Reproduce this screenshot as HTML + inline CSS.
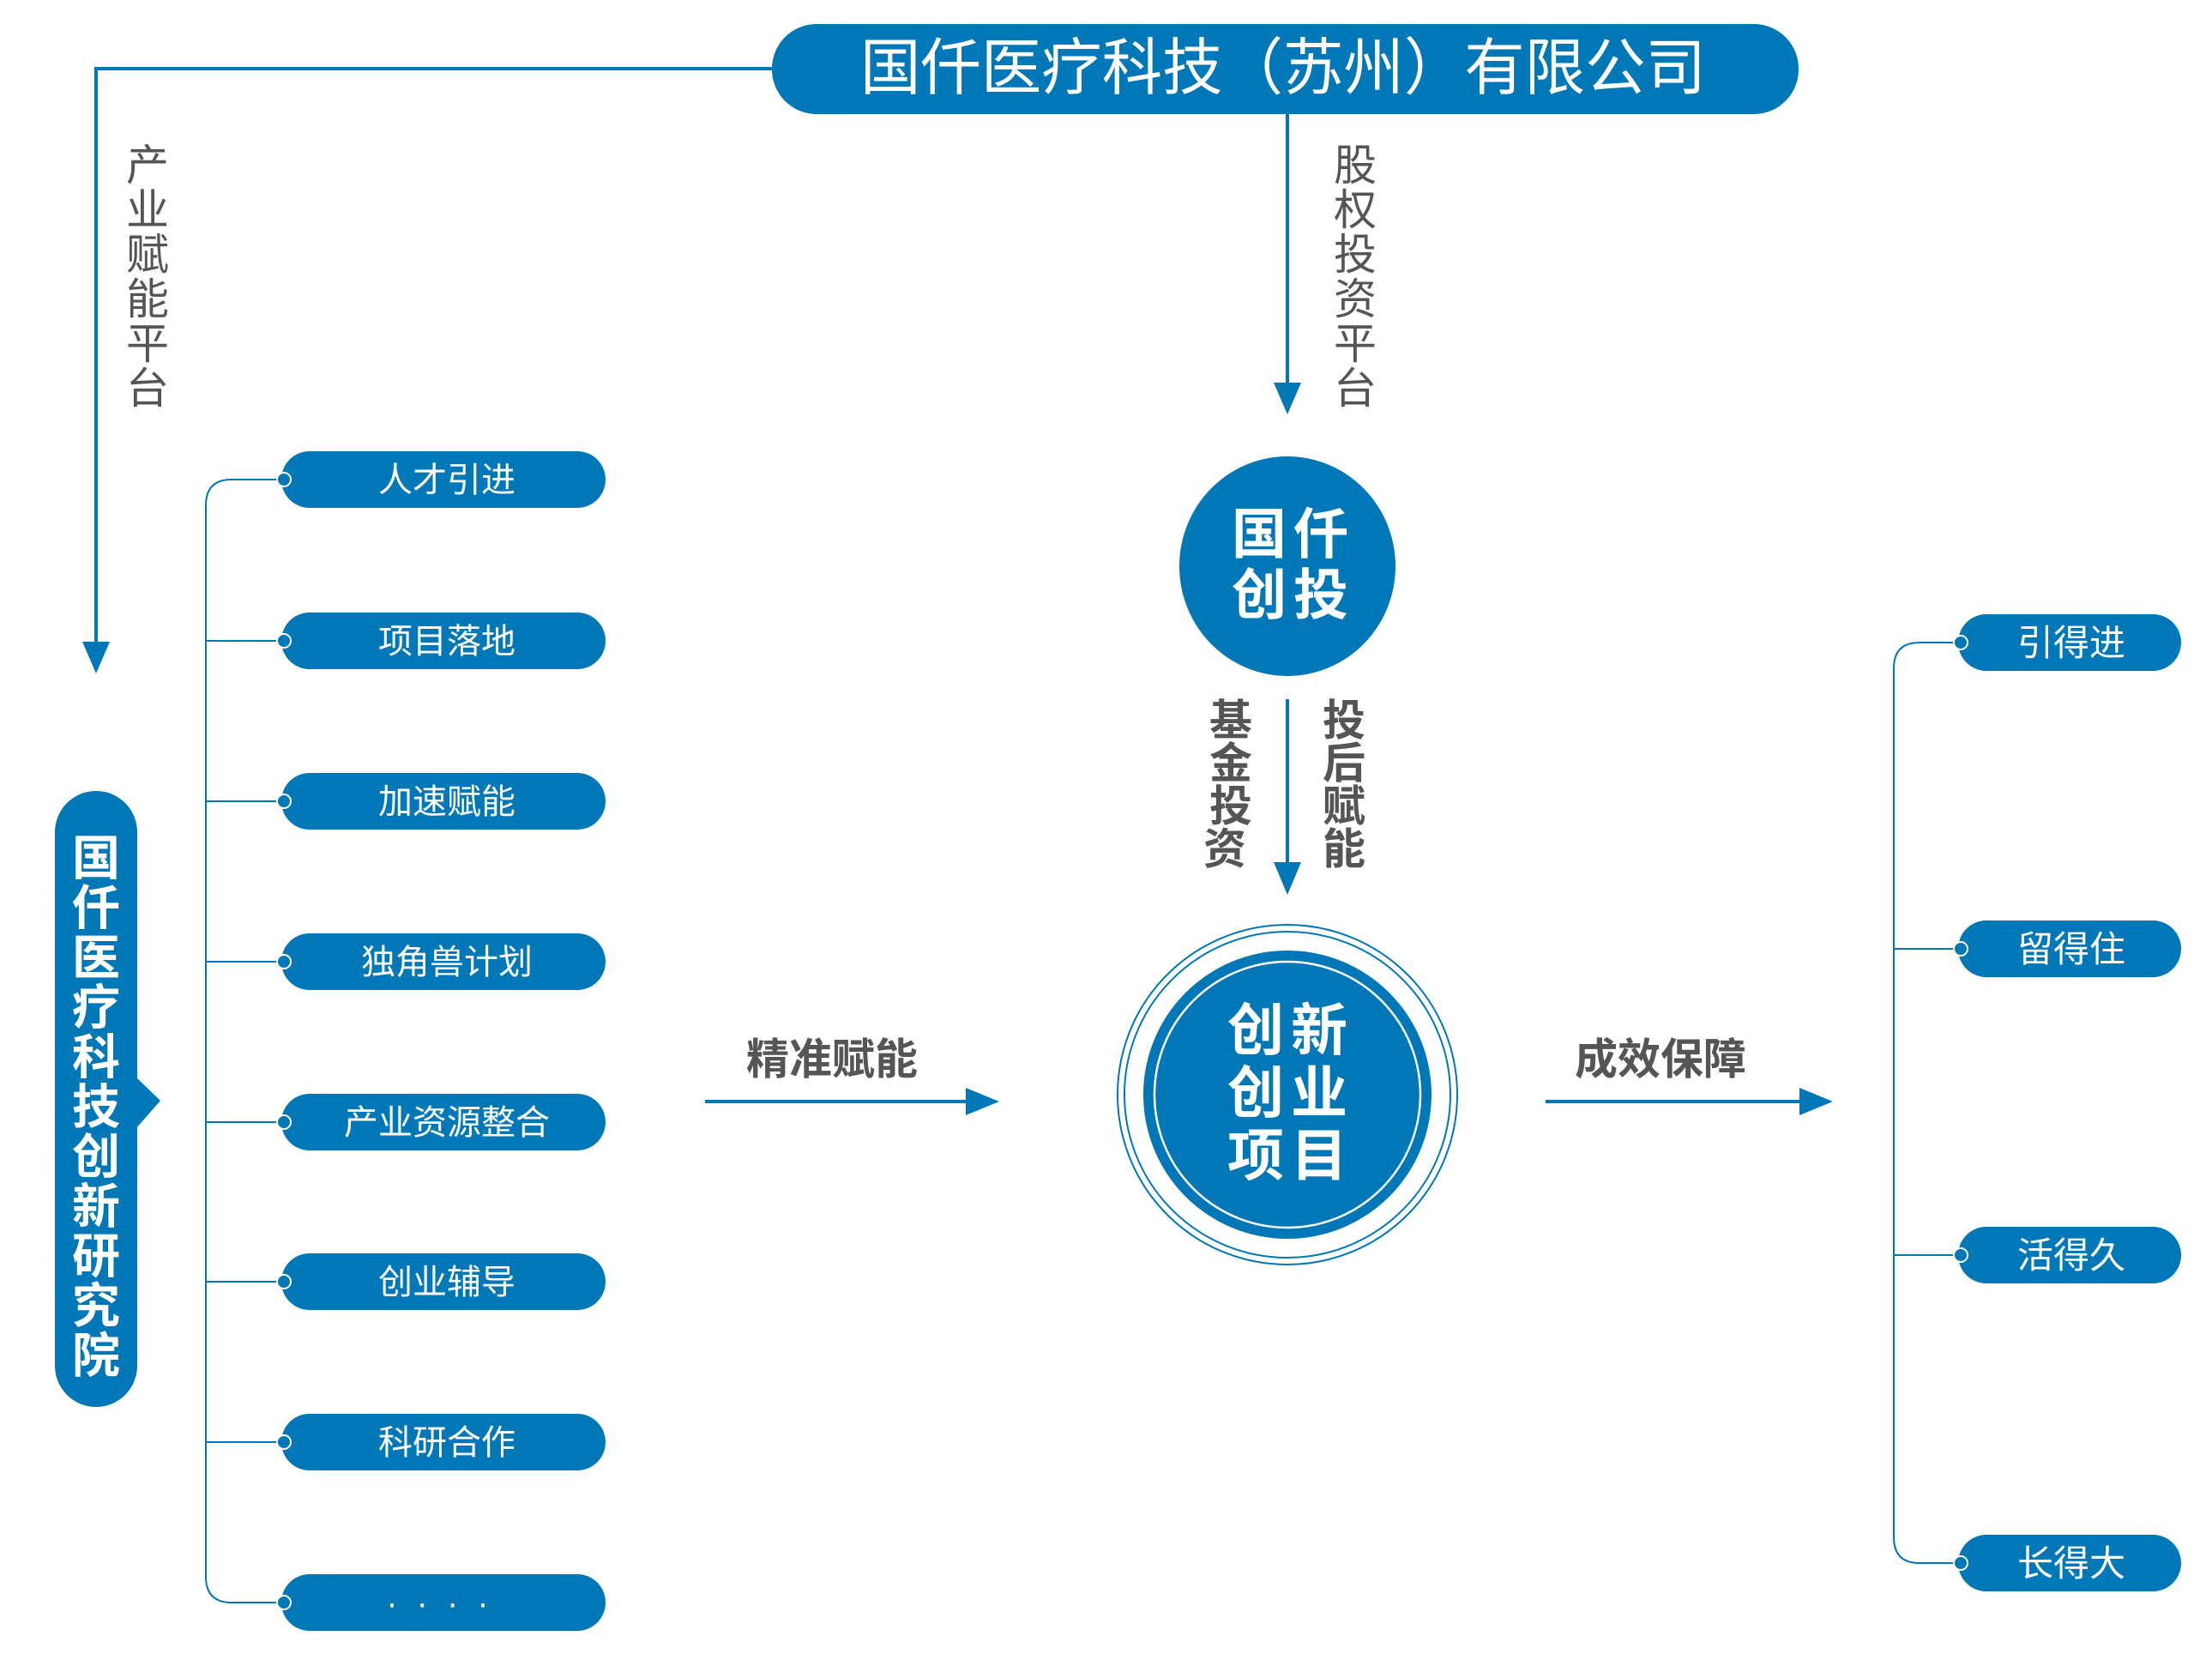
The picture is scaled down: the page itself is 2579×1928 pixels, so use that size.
<!DOCTYPE html>
<html><head><meta charset="utf-8"><style>
html,body{margin:0;padding:0;background:#fff;}
svg{display:block;}
text{font-family:"Liberation Sans","Noto Sans CJK SC",sans-serif;}
</style></head><body>
<svg width="2579" height="1928" viewBox="0 0 2579 1928" xmlns="http://www.w3.org/2000/svg">
<defs>
<marker id="ah" markerWidth="10" markerHeight="10" refX="0" refY="0" orient="auto"/>
</defs>
<g fill="#0077b6" stroke="none">
<!-- top pill -->
<rect x="900" y="28" width="1197" height="105" rx="52"/>
</g>
<text x="1496" y="104" fill="#fff" font-size="72" text-anchor="middle" textLength="986" lengthAdjust="spacingAndGlyphs">国仟医疗科技（苏州）有限公司</text>

<!-- left connector -->
<polyline points="900,80 112,80 112,755" fill="none" stroke="#0077b6" stroke-width="4"/>
<polygon points="96,748 128,748 112,785" fill="#0077b6"/>
<text fill="#555" font-size="50" text-anchor="middle">
<tspan x="172" y="210">产</tspan><tspan x="172" y="262">业</tspan><tspan x="172" y="314">赋</tspan><tspan x="172" y="366">能</tspan><tspan x="172" y="418">平</tspan><tspan x="172" y="470">台</tspan>
</text>

<!-- center top arrow -->
<line x1="1501" y1="133" x2="1501" y2="450" stroke="#0077b6" stroke-width="4"/>
<polygon points="1485,446 1517,446 1501,483" fill="#0077b6"/>
<text fill="#555" font-size="50" text-anchor="middle">
<tspan x="1580" y="210">股</tspan><tspan x="1580" y="262">权</tspan><tspan x="1580" y="314">投</tspan><tspan x="1580" y="366">资</tspan><tspan x="1580" y="418">平</tspan><tspan x="1580" y="470">台</tspan>
</text>

<!-- 国仟创投 circle -->
<ellipse cx="1501" cy="660" rx="126" ry="128" fill="#0077b6"/>
<text fill="#fff" font-size="64" font-weight="bold" text-anchor="middle" letter-spacing="8">
<tspan x="1508" y="645">国仟</tspan><tspan x="1508" y="716">创投</tspan>
</text>

<!-- middle arrow -->
<line x1="1501" y1="815" x2="1501" y2="1010" stroke="#0077b6" stroke-width="4"/>
<polygon points="1485,1005 1517,1005 1501,1043" fill="#0077b6"/>
<text fill="#555" font-size="50" font-weight="bold" text-anchor="middle">
<tspan x="1435" y="857">基</tspan><tspan x="1435" y="907">金</tspan><tspan x="1435" y="957">投</tspan><tspan x="1435" y="1007">资</tspan>
<tspan x="1567" y="857">投</tspan><tspan x="1567" y="907">后</tspan><tspan x="1567" y="957">赋</tspan><tspan x="1567" y="1007">能</tspan>
</text>

<!-- big circle -->
<ellipse cx="1501" cy="1276" rx="198" ry="198" fill="none" stroke="#0077b6" stroke-width="2"/>
<ellipse cx="1501" cy="1276" rx="190" ry="190" fill="none" stroke="#0077b6" stroke-width="2"/>
<ellipse cx="1501" cy="1276" rx="168" ry="168" fill="#0077b6"/>
<ellipse cx="1501" cy="1276" rx="155" ry="155" fill="none" stroke="#fff" stroke-width="2.5"/>
<text fill="#fff" font-size="66" font-weight="bold" text-anchor="middle" letter-spacing="8">
<tspan x="1505" y="1224">创新</tspan><tspan x="1505" y="1297">创业</tspan><tspan x="1505" y="1370">项目</tspan>
</text>

<!-- horizontal arrows -->
<text x="970" y="1252" fill="#555" font-size="50" font-weight="bold" text-anchor="middle">精准赋能</text>
<line x1="822" y1="1284" x2="1130" y2="1284" stroke="#0077b6" stroke-width="4"/>
<polygon points="1126,1268 1126,1300 1165,1284" fill="#0077b6"/>
<text x="1936" y="1252" fill="#555" font-size="50" font-weight="bold" text-anchor="middle">成效保障</text>
<line x1="1802" y1="1284" x2="2100" y2="1284" stroke="#0077b6" stroke-width="4"/>
<polygon points="2098,1268 2098,1300 2137,1284" fill="#0077b6"/>

<!-- left vertical pill -->
<rect x="64" y="922" width="96" height="718" rx="48" fill="#0077b6"/>
<polygon points="158,1255 187,1283 158,1316" fill="#0077b6"/>
<text fill="#fff" font-size="56" font-weight="bold" text-anchor="middle">
<tspan x="112" y="1020">国</tspan><tspan x="112" y="1078">仟</tspan><tspan x="112" y="1136">医</tspan><tspan x="112" y="1194">疗</tspan><tspan x="112" y="1252">科</tspan><tspan x="112" y="1310">技</tspan><tspan x="112" y="1368">创</tspan><tspan x="112" y="1426">新</tspan><tspan x="112" y="1484">研</tspan><tspan x="112" y="1542">究</tspan><tspan x="112" y="1600">院</tspan>
</text>

<!-- left bracket -->
<path d="M330,559 L270,559 Q240,559 240,589 L240,1838 Q240,1868 270,1868 L330,1868" fill="none" stroke="#0077b6" stroke-width="2"/>
<g stroke="#0077b6" stroke-width="2">
<line x1="240" y1="747" x2="330" y2="747"/><line x1="240" y1="934" x2="330" y2="934"/>
<line x1="240" y1="1121" x2="330" y2="1121"/><line x1="240" y1="1308" x2="330" y2="1308"/>
<line x1="240" y1="1494" x2="330" y2="1494"/><line x1="240" y1="1681" x2="330" y2="1681"/>
</g>
<g fill="#0077b6">
<rect x="328" y="526" width="378" height="66" rx="33"/>
<rect x="328" y="714" width="378" height="66" rx="33"/>
<rect x="328" y="901" width="378" height="66" rx="33"/>
<rect x="328" y="1088" width="378" height="66" rx="33"/>
<rect x="328" y="1275" width="378" height="66" rx="33"/>
<rect x="328" y="1461" width="378" height="66" rx="33"/>
<rect x="328" y="1648" width="378" height="66" rx="33"/>
<rect x="328" y="1835" width="378" height="66" rx="33"/>
</g>
<g fill="#0077b6" stroke="#fff" stroke-width="2">
<circle cx="331" cy="559" r="8"/><circle cx="331" cy="747" r="8"/><circle cx="331" cy="934" r="8"/><circle cx="331" cy="1121" r="8"/>
<circle cx="331" cy="1308" r="8"/><circle cx="331" cy="1494" r="8"/><circle cx="331" cy="1681" r="8"/><circle cx="331" cy="1868" r="8"/>
</g>
<g fill="#fff" font-size="40" text-anchor="middle">
<text x="521" y="573">人才引进</text>
<text x="521" y="761">项目落地</text>
<text x="521" y="948">加速赋能</text>
<text x="521" y="1135">独角兽计划</text>
<text x="521" y="1322">产业资源整合</text>
<text x="521" y="1508">创业辅导</text>
<text x="521" y="1695">科研合作</text>
<text x="521" y="1882" letter-spacing="22">····</text>
</g>

<!-- right bracket -->
<path d="M2285,749 L2238,749 Q2208,749 2208,779 L2208,1792 Q2208,1822 2238,1822 L2285,1822" fill="none" stroke="#0077b6" stroke-width="2"/>
<g stroke="#0077b6" stroke-width="2">
<line x1="2208" y1="1106" x2="2285" y2="1106"/><line x1="2208" y1="1463" x2="2285" y2="1463"/>
</g>
<g fill="#0077b6">
<rect x="2283" y="716" width="260" height="66" rx="33"/>
<rect x="2283" y="1073" width="260" height="66" rx="33"/>
<rect x="2283" y="1430" width="260" height="66" rx="33"/>
<rect x="2283" y="1789" width="260" height="66" rx="33"/>
</g>
<g fill="#0077b6" stroke="#fff" stroke-width="2">
<circle cx="2286" cy="749" r="8"/><circle cx="2286" cy="1106" r="8"/><circle cx="2286" cy="1463" r="8"/><circle cx="2286" cy="1822" r="8"/>
</g>
<g fill="#fff" font-size="42" text-anchor="middle">
<text x="2415" y="764">引得进</text>
<text x="2415" y="1121">留得住</text>
<text x="2415" y="1478">活得久</text>
<text x="2415" y="1837">长得大</text>
</g>
</svg>
</body></html>
